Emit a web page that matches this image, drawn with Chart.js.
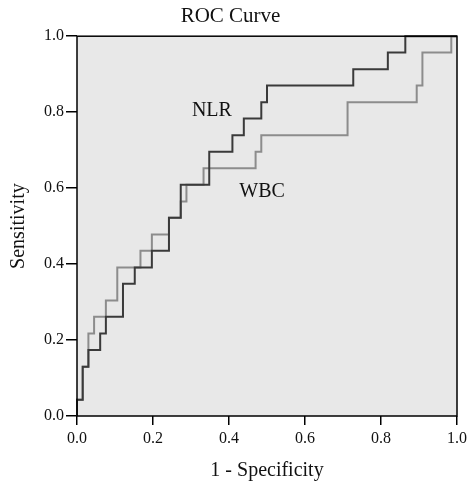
<!DOCTYPE html>
<html>
<head>
<meta charset="utf-8">
<script src="https://cdn.jsdelivr.net/npm/chart.js@4/dist/chart.umd.min.js"></script>
<style>
  html, body { margin: 0; padding: 0; background: #fff; }
  #wrap { width: 468px; height: 481px; }
</style>
</head>
<body>
<div id="wrap"><canvas id="roc"></canvas></div>
<script>
// ROC coordinates (1 - specificity, sensitivity)
const nlrFpr = [0, 0.015, 0.030, 0.061, 0.076, 0.121, 0.152, 0.197, 0.242, 0.273, 0.348, 0.409, 0.439, 0.485, 0.500, 0.727, 0.818, 0.864];
const nlrTpr = [0.043, 0.130, 0.174, 0.217, 0.261, 0.348, 0.391, 0.435, 0.522, 0.609, 0.696, 0.739, 0.783, 0.826, 0.870, 0.913, 0.957, 1.0];
const wbcFpr = [0, 0.015, 0.030, 0.045, 0.076, 0.106, 0.167, 0.197, 0.242, 0.273, 0.288, 0.333, 0.470, 0.485, 0.712, 0.894, 0.909, 0.985];
const wbcTpr = [0.043, 0.130, 0.217, 0.261, 0.304, 0.391, 0.435, 0.478, 0.522, 0.565, 0.609, 0.652, 0.696, 0.739, 0.826, 0.870, 0.957, 1.0];
const tickValues = [0, 0.2, 0.4, 0.6, 0.8, 1.0];

const serif = '"Liberation Serif", "DejaVu Serif", serif';

function toPoints(fpr, tpr) {
    const pts = [{ x: 0, y: 0 }];
    fpr.forEach((x, i) => pts.push({ x: x, y: tpr[i] }));
    pts.push({ x: 1, y: 1 });
    return pts;
}

// grey plot background + black frame + curve labels
const frame = {
    id: 'frame',
    beforeDatasetsDraw(chart) {
        const { ctx, chartArea: a } = chart;
        ctx.save();
        ctx.fillStyle = '#e8e8e8';
        ctx.fillRect(a.left, a.top, a.right - a.left, a.bottom - a.top);
        ctx.restore();
    },
    afterDatasetsDraw(chart) {
        const { ctx, chartArea: a, scales } = chart;
        ctx.save();
        ctx.strokeStyle = '#000';
        ctx.lineWidth = 1.5;
        ctx.strokeRect(a.left, a.top, a.right - a.left, a.bottom - a.top);
        ctx.fillStyle = '#111';
        ctx.font = '20px ' + serif;
        ctx.textAlign = 'center';
        ctx.textBaseline = 'middle';
        ctx.fillText('NLR', scales.x.getPixelForValue(0.355), scales.y.getPixelForValue(0.805));
        ctx.fillText('WBC', scales.x.getPixelForValue(0.487), scales.y.getPixelForValue(0.59));
        ctx.restore();
    }
};

new Chart(document.getElementById('roc'), {
    type: 'scatter',
    data: {
        datasets: [
            {
                label: 'NLR',
                data: toPoints(nlrFpr, nlrTpr),
                showLine: true,
                stepped: 'before',
                borderColor: '#3a3a3a',
                borderWidth: 2,
                pointRadius: 0,
                clip: false
            },
            {
                label: 'WBC',
                data: toPoints(wbcFpr, wbcTpr),
                showLine: true,
                stepped: 'before',
                borderColor: '#8c8c8c',
                borderWidth: 2,
                pointRadius: 0,
                clip: false
            }
        ]
    },
    options: {
        responsive: true,
        maintainAspectRatio: false,
        animation: false,
        layout: { padding: { left: 4, right: 11, top: 0, bottom: 0 } },
        plugins: {
            legend: { display: false },
            tooltip: { enabled: false },
            title: {
                display: true,
                text: 'ROC Curve',
                color: '#111',
                font: { family: serif, size: 21, weight: 'normal' },
                padding: { top: 4, bottom: 7 }
            }
        },
        scales: {
            x: {
                type: 'linear',
                min: 0,
                max: 1,
                afterBuildTicks: axis => { axis.ticks = tickValues.map(v => ({ value: v })); },
                afterFit: axis => {
                    axis.height = 65;
                    axis.paddingLeft = 0;
                    axis.paddingRight = 0;
                },
                ticks: {
                    color: '#111',
                    font: { family: serif, size: 16 },
                    padding: 4,
                    callback: v => v.toFixed(1)
                },
                grid: { drawOnChartArea: false, drawTicks: true, tickLength: 9, color: '#000', lineWidth: 1.5 },
                border: { display: false },
                title: {
                    display: true,
                    text: '1 - Specificity',
                    color: '#111',
                    font: { family: serif, size: 20 },
                    padding: { top: 0, bottom: -2 }
                }
            },
            y: {
                type: 'linear',
                min: 0,
                max: 1,
                afterBuildTicks: axis => { axis.ticks = tickValues.map(v => ({ value: v })); },
                afterFit: axis => { axis.width = 73; },
                ticks: {
                    color: '#111',
                    font: { family: serif, size: 16 },
                    padding: 2,
                    callback: v => v.toFixed(1)
                },
                grid: { drawOnChartArea: false, drawTicks: true, tickLength: 11, color: '#000', lineWidth: 1.5 },
                border: { display: false },
                title: {
                    display: true,
                    text: 'Sensitivity',
                    color: '#111',
                    font: { family: serif, size: 20 },
                    padding: { top: 3, bottom: 0 }
                }
            }
        }
    },
    plugins: [frame]
});
</script>
</body>
</html>
